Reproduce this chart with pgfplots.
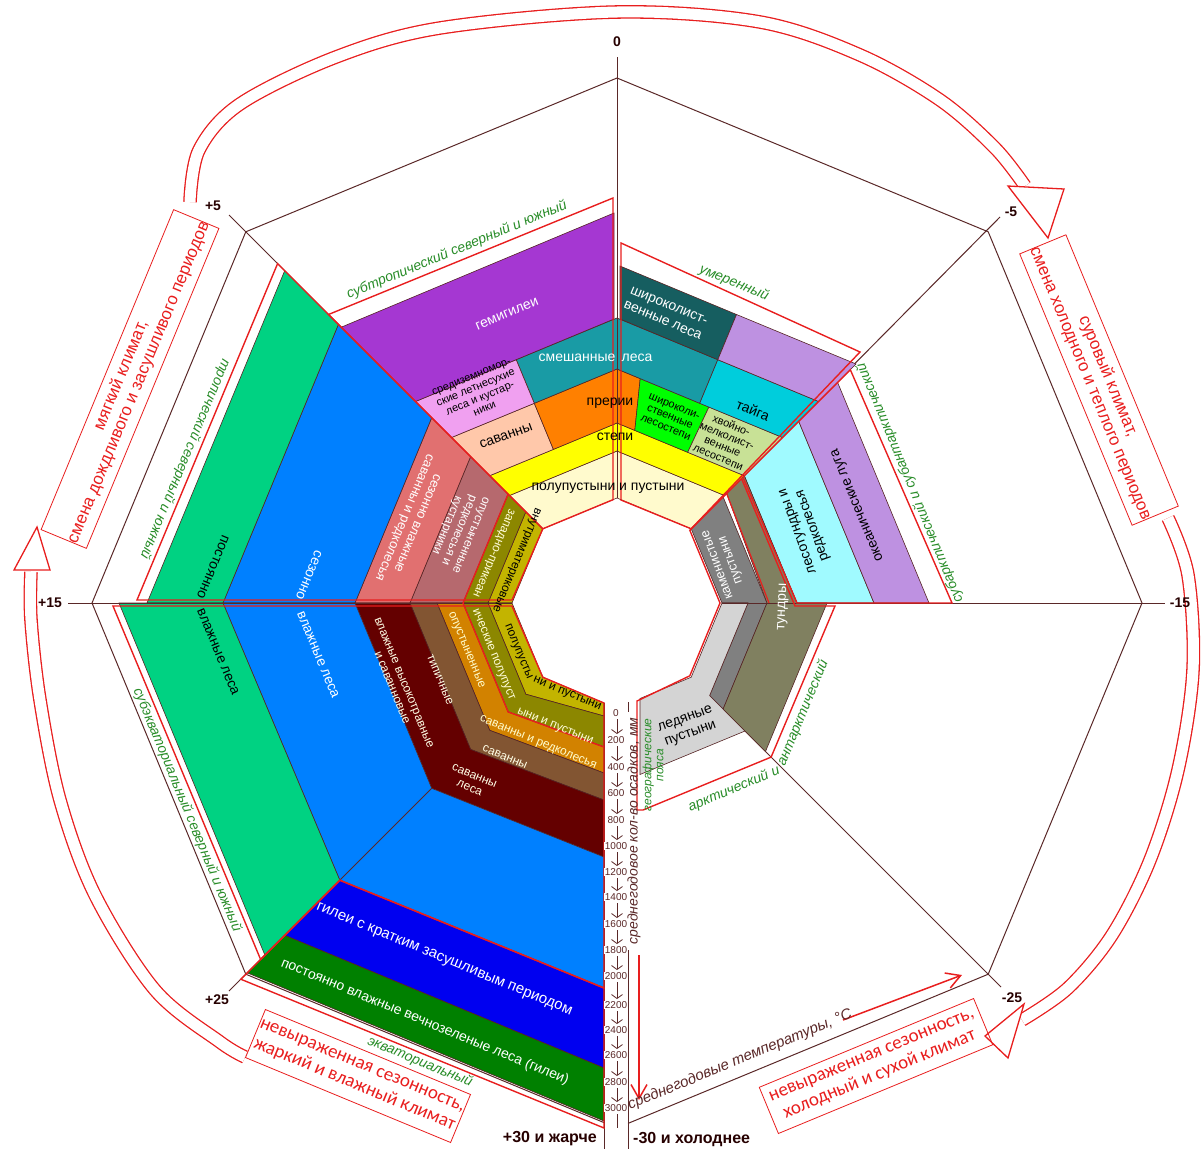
\documentclass[border=0pt]{standalone}
\usepackage{fontspec}
\setmainfont{Liberation Sans}
\newfontfamily\carlito{Carlito}
\usepackage{pgfplots}
\pgfplotsset{compat=1.18}
\usetikzlibrary{arrows.meta}
\newcommand{\fs}[2]{\fontsize{#1pt}{#2pt}\selectfont}
\definecolor{edge}{RGB}{85,35,35}
\definecolor{axisc}{RGB}{90,40,40}
\definecolor{zred}{RGB}{232,30,30}
\definecolor{zgreen}{RGB}{40,140,40}
\definecolor{cPolu}{RGB}{255,250,205}
\definecolor{cStepi}{RGB}{255,255,0}
\definecolor{cSav}{RGB}{255,200,170}
\definecolor{cPrer}{RGB}{255,128,0}
\definecolor{cShLes}{RGB}{0,255,0}
\definecolor{cHvLes}{RGB}{200,225,150}
\definecolor{cSmesh}{RGB}{25,155,165}
\definecolor{cSred}{RGB}{240,160,240}
\definecolor{cTaiga}{RGB}{0,205,220}
\definecolor{cGemi}{RGB}{165,55,210}
\definecolor{cShir}{RGB}{22,94,96}
\definecolor{cLilac}{RGB}{190,145,225}
\definecolor{cLesot}{RGB}{160,250,255}
\definecolor{cKam}{RGB}{128,128,128}
\definecolor{cTund}{RGB}{128,128,96}
\definecolor{cLed}{RGB}{212,212,212}
\definecolor{cPostVl}{RGB}{0,210,130}
\definecolor{cSezVl}{RGB}{0,128,255}
\definecolor{cSezSav}{RGB}{225,112,112}
\definecolor{cOpRed}{RGB}{182,105,110}
\definecolor{cZap}{RGB}{140,135,0}
\definecolor{cVnut}{RGB}{195,180,0}
\definecolor{cOpSav}{RGB}{210,130,0}
\definecolor{cTip}{RGB}{130,85,50}
\definecolor{cVlVys}{RGB}{100,0,0}
\definecolor{cGilei}{RGB}{0,0,240}
\definecolor{cPostGil}{RGB}{0,128,0}
\tikzset{
  lab/.style={font=\fs{14}{16}, align=center, inner sep=0pt},
  sm/.style={font=\fs{11}{11.5}, align=center, inner sep=0pt},
  zl/.style={font=\itshape\fs{14}{16}, text=zgreen, inner sep=0pt},
  num/.style={font=\bfseries\fs{14}{16}, text=black!85!red, inner sep=0pt},
}
\pgfplotsset{big/.style={draw=zred, line width=1.3pt, double=white, double distance=11pt, smooth, tension=0.55}}
\newcommand{\poly}[2]{\addplot[draw=edge, line width=0.6pt, fill=#1] coordinates {#2} -- cycle;}
\newcommand{\rpoly}[1]{\addplot[draw=zred, line width=1.4pt] coordinates {#1} -- cycle;}
\begin{document}
\begin{tikzpicture}
\begin{axis}[
  width=1202pt, height=1149pt, scale only axis,
  xmin=0, xmax=1202, ymin=0, ymax=1149, y dir=reverse,
  hide axis, clip=false,
]
% ---- axes of the octagon
\addplot[axisc, line width=1pt] coordinates {(604,1122.6) (245.8,974.2) (92,603) (245.8,231.8) (617,78) (988.2,231.8) (1142,603) (988.2,974.2) (628,1123.4)};
\addplot[axisc, line width=1pt] coordinates {(229,215) (542.8,528.8)};
\addplot[axisc, line width=1pt] coordinates {(1000,217) (691.2,528.8)};
\addplot[axisc, line width=1pt] coordinates {(1001,987) (691.2,677.2)};
\addplot[axisc, line width=1pt] coordinates {(229,991) (542.8,677.2)};
\addplot[axisc, line width=1pt] coordinates {(604,703) (604,1149)};
\addplot[axisc, line width=1pt] coordinates {(628,950) (628,1149)};
\addplot[axisc, line width=1pt] coordinates {(628,702) (628,712)};
% ---- upper half
\poly{cPolu}{(542.8,528.8) (617,498) (691.2,528.8) (724.5,495.5) (617,451) (509.5,495.5)}
\poly{cStepi}{(509.5,495.5) (617,451) (724.5,495.5) (744.3,475.7) (617,423) (489.7,475.7)}
\poly{cSav}{(553.4,449.4) (489.7,475.7) (451.5,437.5) (534.3,403.3)}
\poly{cPrer}{(553.4,449.4) (617,423) (634.8,430.4) (640.2,378.6) (617,369) (534.3,403.3)}
\poly{cShLes}{(634.8,430.4) (687.7,452.3) (708.9,407.0) (640.2,378.6)}
\poly{cHvLes}{(687.7,452.3) (744.3,475.7) (782.5,437.5) (708.9,407.0)}
\poly{cSmesh}{(534.3,403.3) (617,369) (699.7,403.3) (717.8,359.7) (617,318) (516.2,359.7)}
\poly{cSred}{(534.3,403.3) (451.5,437.5) (415.5,401.5) (516.2,359.7)}
\poly{cTaiga}{(699.7,403.3) (782.5,437.5) (818.5,401.5) (717.8,359.7)}
\poly{cGemi}{(415.5,401.5) (614,319) (614,213) (341.2,327.2)}
\poly{cShir}{(620,319) (717.8,359.7) (736.5,314.5) (620,266)}
\poly{cLilac}{(717.8,359.7) (818.5,401.5) (856,364) (736.5,314.5)}
% ---- right sector
\poly{cLesot}{(744.3,475.7) (797,603) (874,603) (798.7,421.3)}
\poly{cLilac}{(798.7,421.3) (874,603) (929,603) (837.6,382.4)}
\poly{cKam}{(691.2,528.8) (723.1,496.9) (767,603) (723.1,709.1) (709.6,695.6) (748,603) (722,603)}
\poly{cLed}{(722,603) (748,603) (709.6,695.6) (745,731) (640,774.5) (640,698.5) (691.2,677.2)}
\poly{cTund}{(726.6,493.4) (744.3,475.7) (797,603) (827,603) (765.5,751.5) (723.1,709.1) (767,603)}
% ---- left upper sector
\poly{cVnut}{(542.8,528.8) (512,603) (488,603) (525.8,511.8)}
\poly{cZap}{(525.8,511.8) (488,603) (463,603) (508.1,494.1)}
\poly{cOpRed}{(508.1,494.1) (463,603) (410,603) (470.6,456.6)}
\poly{cSezSav}{(470.6,456.6) (410,603) (355,603) (431.7,417.7)}
\poly{cSezVl}{(431.7,417.7) (355,603) (223,603) (338.4,324.4)}
\poly{cPostVl}{(338.4,324.4) (223,603) (147,603) (284.7,270.7)}
% ---- left lower sector
\poly{cVnut}{(512,603) (542.8,677.2) (604,703) (604,716) (525.8,694.2) (488,603)}
\poly{cZap}{(488,603) (525.8,694.2) (604,716) (604,747) (508.1,711.9) (463,603)}
\poly{cOpSav}{(463,603) (508.1,711.9) (604,747) (604,773) (489.7,730.3) (437,603)}
\poly{cTip}{(437,603) (489.7,730.3) (604,773) (604,800) (470.6,749.4) (410,603)}
\poly{cVlVys}{(410,603) (470.6,749.4) (604,800) (604,857) (431.7,788.3) (355,603)}
\poly{cSezVl}{(355,603) (431.7,788.3) (604,857) (604,988) (339.8,880.2) (223,603)}
\poly{cPostVl}{(223,603) (339.8,880.2) (264.9,955.1) (119,603)}
\poly{cGilei}{(339.8,880.2) (604,988) (604,1068) (284.7,935.3)}
\poly{cPostGil}{(284.7,935.3) (604,1068) (604,1121) (247.2,972.8)}
% lines over regions
\addplot[axisc, line width=0.8pt] coordinates {(339.8,880.2) (431.7,788.3)};
\addplot[axisc, line width=1pt] coordinates {(617,57) (617,498)};
\addplot[axisc, line width=1pt] coordinates {(68,603) (512,603)};
\addplot[axisc, line width=1pt] coordinates {(722,603) (1165,603)};
% ---- red zone outlines
\rpoly{(613,198) (328.5,314.5) (542.8,528.8) (613,499.7)}
\rpoly{(621,243) (860,352) (691.2,528.8) (621,500)}
\rpoly{(277.6,263.6) (137,600) (512,600) (542.8,528.8)}
\rpoly{(113,606) (260.6,959.4) (339.8,880.2) (604,988) (604,703) (542.8,677.2) (512,606)}
\rpoly{(339.8,880.2) (604,988) (604,1128) (240.8,979.2)}
\rpoly{(742.9,477.1) (850.3,369.7) (952,603) (797,603)}
\rpoly{(637,701) (689.8,675.8) (720,603) (689.8,530.2) (741.5,478.5) (795,606) (835,606) (771.1,757.1) (643,810) (637,810)}
\addplot[draw=zred, line width=1.4pt] coordinates {(508.1,494.1) (463,603) (508.1,711.9) (604,747)};
\addplot[draw=zred, line width=1.2pt] coordinates {(726.6,493.4) (769,603)};
% ---- big arrows
\addplot[big] coordinates {(190,202) (199,150) (240,104) (336,57) (440,28) (617,12) (760,22) (860,55) (940,100) (995,148) (1025,186)};
\addplot[draw=zred, line width=1.3pt, fill=white] coordinates {(1008,186) (1064,189) (1048,238)} -- cycle;
\addplot[big] coordinates {(1168,518) (1188,575) (1193,670) (1178,770) (1150,860) (1112,935) (1068,988) (1022,1020)};
\addplot[draw=zred, line width=1.3pt, fill=white] coordinates {(1024,1004) (1008,1058) (985,1036)} -- cycle;
\addplot[big] coordinates {(245,1057) (220,1042) (155,990) (95,895) (60,800) (40,700) (31,620) (31,572)};
\addplot[draw=zred, line width=1.3pt, fill=white] coordinates {(14,570) (50,570) (37,527)} -- cycle;
% small red arrows
\draw[zred, line width=1.5pt, -{Straight Barb[length=14pt,width=16pt]}] (axis cs:639,955) -- (axis cs:639,1100);
\draw[zred, line width=1.5pt, -{Straight Barb[length=14pt,width=16pt]}] (axis cs:843,1020) -- (axis cs:962,975);
% ---- scale
\draw[axisc, line width=0.8pt, -{Straight Barb[length=4pt,width=11pt]}] (axis cs:617,719) -- (axis cs:617,734);
\draw[axisc, line width=0.8pt, -{Straight Barb[length=4pt,width=11pt]}] (axis cs:617,746) -- (axis cs:617,761);
\draw[axisc, line width=0.8pt, -{Straight Barb[length=4pt,width=11pt]}] (axis cs:617,773) -- (axis cs:617,787);
\draw[axisc, line width=0.8pt, -{Straight Barb[length=4pt,width=11pt]}] (axis cs:617,799) -- (axis cs:617,814);
\draw[axisc, line width=0.8pt, -{Straight Barb[length=4pt,width=11pt]}] (axis cs:617,826) -- (axis cs:617,840);
\draw[axisc, line width=0.8pt, -{Straight Barb[length=4pt,width=11pt]}] (axis cs:617,852) -- (axis cs:617,866);
\draw[axisc, line width=0.8pt, -{Straight Barb[length=4pt,width=11pt]}] (axis cs:617,878) -- (axis cs:617,891);
\draw[axisc, line width=0.8pt, -{Straight Barb[length=4pt,width=11pt]}] (axis cs:617,903) -- (axis cs:617,918);
\draw[axisc, line width=0.8pt, -{Straight Barb[length=4pt,width=11pt]}] (axis cs:617,930) -- (axis cs:617,944);
\draw[axisc, line width=0.8pt, -{Straight Barb[length=4pt,width=11pt]}] (axis cs:617,956) -- (axis cs:617,970);
\draw[axisc, line width=0.8pt, -{Straight Barb[length=4pt,width=11pt]}] (axis cs:617,982) -- (axis cs:617,999);
\draw[axisc, line width=0.8pt, -{Straight Barb[length=4pt,width=11pt]}] (axis cs:617,1011) -- (axis cs:617,1024);
\draw[axisc, line width=0.8pt, -{Straight Barb[length=4pt,width=11pt]}] (axis cs:617,1036) -- (axis cs:617,1049);
\draw[axisc, line width=0.8pt, -{Straight Barb[length=4pt,width=11pt]}] (axis cs:617,1061) -- (axis cs:617,1076);
\draw[axisc, line width=0.8pt, -{Straight Barb[length=4pt,width=11pt]}] (axis cs:617,1088) -- (axis cs:617,1102);
\draw[axisc, line width=0.8pt] (axis cs:617,1114) -- (axis cs:617,1128);
\node[font=\fs{10}{11}, text=axisc, fill=white, inner sep=0.5pt] at (axis cs:616,713) {0};
\node[font=\fs{10}{11}, text=axisc, fill=white, inner sep=0.5pt] at (axis cs:616,740) {200};
\node[font=\fs{10}{11}, text=axisc, fill=white, inner sep=0.5pt] at (axis cs:616,767) {400};
\node[font=\fs{10}{11}, text=axisc, fill=white, inner sep=0.5pt] at (axis cs:616,793) {600};
\node[font=\fs{10}{11}, text=axisc, fill=white, inner sep=0.5pt] at (axis cs:616,820) {800};
\node[font=\fs{10}{11}, text=axisc, fill=white, inner sep=0.5pt] at (axis cs:616,846) {1000};
\node[font=\fs{10}{11}, text=axisc, fill=white, inner sep=0.5pt] at (axis cs:616,872) {1200};
\node[font=\fs{10}{11}, text=axisc, fill=white, inner sep=0.5pt] at (axis cs:616,897) {1400};
\node[font=\fs{10}{11}, text=axisc, fill=white, inner sep=0.5pt] at (axis cs:616,924) {1600};
\node[font=\fs{10}{11}, text=axisc, fill=white, inner sep=0.5pt] at (axis cs:616,950) {1800};
\node[font=\fs{10}{11}, text=axisc, fill=white, inner sep=0.5pt] at (axis cs:616,976) {2000};
\node[font=\fs{10}{11}, text=axisc, fill=white, inner sep=0.5pt] at (axis cs:616,1005) {2200};
\node[font=\fs{10}{11}, text=axisc, fill=white, inner sep=0.5pt] at (axis cs:616,1030) {2400};
\node[font=\fs{10}{11}, text=axisc, fill=white, inner sep=0.5pt] at (axis cs:616,1055) {2600};
\node[font=\fs{10}{11}, text=axisc, fill=white, inner sep=0.5pt] at (axis cs:616,1082) {2800};
\node[font=\fs{10}{11}, text=axisc, fill=white, inner sep=0.5pt] at (axis cs:616,1108) {3000};
\node[font=\itshape\fs{14}{16}, text=axisc, rotate=90, inner sep=0pt] at (axis cs:634,831) {среднегодовое кол-во осадков, мм};
\node[font=\itshape\fs{15}{16}, text=axisc, rotate=22.5, inner sep=0pt] at (axis cs:740,1060) {среднегодовые температуры, °C};
% ---- axis numbers
\node[num] at (axis cs:617,42) {0};
\node[num] at (axis cs:213,206) {+5};
\node[num] at (axis cs:1011,212) {-5};
\node[num] at (axis cs:50,603) {+15};
\node[num] at (axis cs:1180,603) {-15};
\node[num] at (axis cs:217,1000) {+25};
\node[num] at (axis cs:1012,998) {-25};
\node[num, font=\bfseries\fs{16}{18}, anchor=east] at (axis cs:597,1139) {+30 и жарче};
\node[num, font=\bfseries\fs{16}{18}, anchor=west] at (axis cs:633,1139) {-30 и холоднее};
% ---- zone labels
\node[zl, rotate=22.5] at (axis cs:457,250) {субтропический северный и южный};
\node[zl, rotate=-22.5] at (axis cs:734,283) {умеренный};
\node[zl, rotate=112.5] at (axis cs:910,483) {субарктический и субантарктический};
\node[zl, rotate=22.5] at (axis cs:734,789) {арктический и};
\node[zl, rotate=67.5] at (axis cs:803,713) {антарктический};
\node[zl, rotate=-67.5] at (axis cs:187,810) {субэкваториальный северный и южный};
\node[zl, rotate=-112.5] at (axis cs:185,459) {тропический северный и южный};
\node[zl, rotate=-22.5] at (axis cs:420,1062) {экваториальный};
\node[zl, rotate=90, font=\itshape\fs{12}{12}, align=center] at (axis cs:653,765) {географические\\пояса};
% ---- biome labels
\node[lab, text=white, rotate=22.5] at (axis cs:507,314) {гемигилеи};
\node[lab, text=white] at (axis cs:577,358) {смешанные};
\node[lab, text=white] at (axis cs:637,358) {леса};
\node[sm, rotate=22.5] at (axis cs:478,393) {средиземномор-\\ские летнесухие\\леса и кустар-\\ники};
\node[lab, rotate=20] at (axis cs:506,436) {саванны};
\node[lab] at (axis cs:610,403) {прерии};
\node[lab] at (axis cs:615,437) {степи};
\node[lab] at (axis cs:608,488) {полупустыни и пустыни};
\node[lab, text=white, rotate=-22.5] at (axis cs:666,313) {широколист-\\венные леса};
\node[lab, rotate=-22.5] at (axis cs:753,410) {тайга};
\node[sm, rotate=-22.5] at (axis cs:670,417) {широколи-\\ственные\\лесостепи};
\node[sm, rotate=-22.5] at (axis cs:725,441) {хвойно-\\мелколист-\\венные\\лесостепи};
\node[lab, rotate=110] at (axis cs:806,528) {лесотундры и\\редколесья};
\node[lab, rotate=112.5] at (axis cs:858,505) {океанические луга};
\node[lab, text=white, rotate=110, font=\fs{13}{14}] at (axis cs:725,562) {каменистые\\пустыни};
\node[lab, text=white, rotate=88] at (axis cs:783,607) {тундры};
\node[lab, rotate=20] at (axis cs:688,727) {ледяные\\пустыни};
\node[lab, rotate=-112.5] at (axis cs:213,567) {постоянно};
\node[lab, rotate=-67.5] at (axis cs:218,652) {влажные леса};
\node[lab, text=white, rotate=-112.5] at (axis cs:309,575) {сезонно};
\node[lab, text=white, rotate=-67.5] at (axis cs:318,655) {влажные леса};
\node[lab, text=white, rotate=-112.5, font=\fs{13}{14}] at (axis cs:410,520) {сезонно влажные\\саванны и редколесья};
\node[lab, text=white, rotate=-112.5, font=\fs{12}{13}] at (axis cs:458,530) {опустыненные\\редколесья и\\кустарники};
\node[lab, text=yellow!15, rotate=-112.5, font=\fs{12}{13}] at (axis cs:493,553) {западно-прикеан};
\node[lab, rotate=-112.5, font=\fs{12}{13}] at (axis cs:516,560) {внутриматериковые};
\node[lab, rotate=-67.5, font=\fs{12}{13}] at (axis cs:518,652) {полупусты};
\node[lab, rotate=-22.5, font=\fs{12}{13}] at (axis cs:567,694) {ни и пустыни};
\node[lab, text=yellow!15, rotate=-67.5, font=\fs{12}{13}] at (axis cs:493,655) {ические полупуст};
\node[lab, text=yellow!15, rotate=-22.5, font=\fs{12}{13}] at (axis cs:555,727) {ыни и пустыни};
\node[lab, text=yellow!20, rotate=-67.5, font=\fs{12}{13}] at (axis cs:466,650) {опустыненные};
\node[lab, text=yellow!20, rotate=-22.5, font=\fs{12}{13}] at (axis cs:538,743) {саванны и редколесья};
\node[lab, text=white!90!yellow, rotate=-67.5, font=\fs{12}{13}] at (axis cs:440,680) {типичные};
\node[lab, text=white!90!yellow, rotate=-22.5, font=\fs{12}{13}] at (axis cs:505,757) {саванны};
\node[lab, text=white!90!yellow, rotate=-67.5, font=\fs{12}{13}] at (axis cs:398,685) {влажные высокотравные\\и саванновые};
\node[lab, text=white!90!yellow, rotate=-22.5, font=\fs{12}{13}] at (axis cs:472,782) {саванны\\леса};
\node[lab, text=white, rotate=-22.5, font=\fs{15}{16}] at (axis cs:444,960) {гилеи с кратким засушливым периодом};
\node[lab, text=white, rotate=-22.5] at (axis cs:425,1022) {постоянно влажные вечнозеленые леса (гилеи)};
% ---- red boxes
\node[draw=zred, line width=0.8pt, rotate=67.5, minimum width=343pt, minimum height=49pt, align=center, text=zred, font=\fs{17}{19}, inner sep=0pt] at (axis cs:130,379) {мягкий климат,\\смена дождливого и засушливого периодов};
\node[draw=zred, line width=0.8pt, rotate=-67.5, minimum width=292pt, minimum height=50pt, align=center, text=zred, font=\fs{17}{19}, inner sep=0pt] at (axis cs:1099,380) {суровый климат,\\смена холодного и теплого периодов};
\node[draw=zred, line width=0.8pt, rotate=-22.5, minimum width=222pt, minimum height=52pt, align=center, text=zred, font=\carlito\fs{19}{21}, inner sep=0pt] at (axis cs:358,1076) {невыраженная сезонность,\\жаркий и влажный климат};
\node[draw=zred, line width=0.8pt, rotate=22.5, minimum width=232pt, minimum height=50pt, align=center, text=zred, font=\carlito\fs{19}{21}, inner sep=0pt] at (axis cs:876,1066) {невыраженная сезонность,\\холодный и сухой климат};
\end{axis}
\pgfresetboundingbox
\path (current axis.south west) rectangle (current axis.north east);
\end{tikzpicture}
\end{document}
